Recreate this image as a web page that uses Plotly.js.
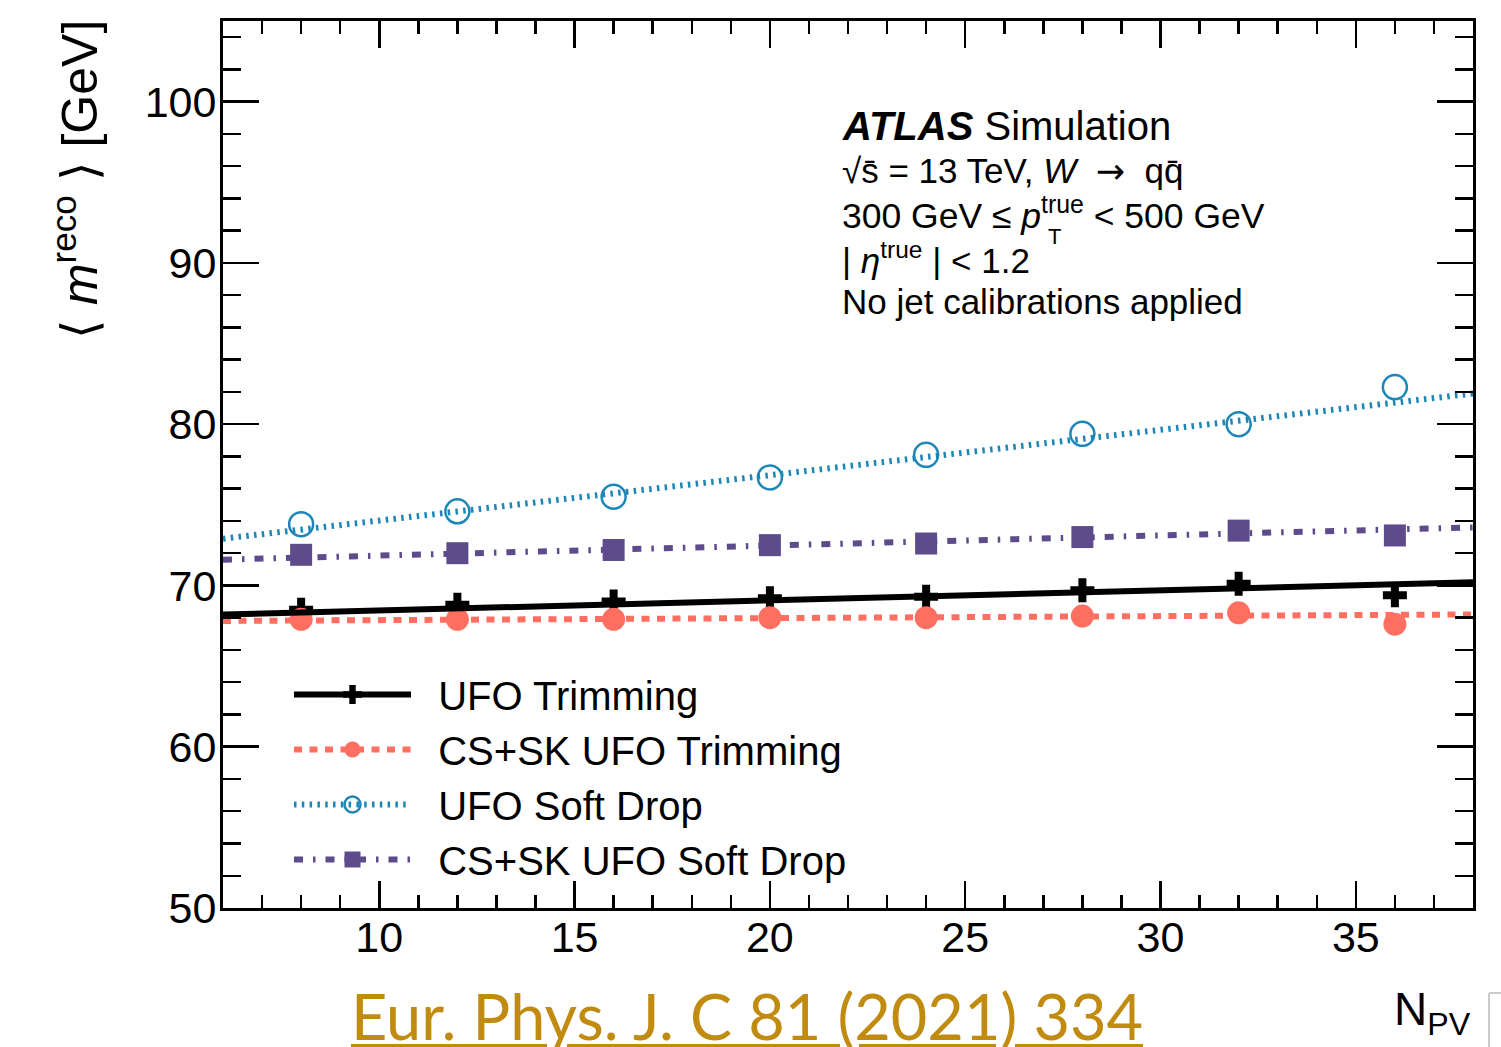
<!DOCTYPE html>
<html>
<head>
<meta charset="utf-8">
<script src="https://cdn.plot.ly/plotly-3.0.1.min.js"></script>
<style>
  html, body { margin: 0; padding: 0; background: #ffffff; }
  #chart { width: 1501px; height: 1047px; }
</style>
</head>
<body>
<div id="chart"></div>
<script>
// Mean reconstructed W-jet mass versus number of primary vertices
const npv = [8, 12, 16, 20, 24, 28, 32, 36];
const ufoTrimming     = [68.5, 68.8, 69.0, 69.2, 69.3, 69.7, 70.1, 69.4];
const csskUfoTrimming = [67.9, 67.9, 67.9, 68.0, 68.0, 68.1, 68.3, 67.6];
const ufoSoftDrop     = [73.8, 74.6, 75.5, 76.7, 78.1, 79.4, 80.0, 82.3];
const csskUfoSoftDrop = [71.9, 72.0, 72.2, 72.5, 72.6, 73.0, 73.4, 73.1];

// Linear fits, given by their values at both ends of the N_PV range
const fitNpv = [6, 38];
const ufoTrimmingFit     = [68.2, 70.2];
const csskUfoTrimmingFit = [67.8, 68.2];
const ufoSoftDropFit     = [72.9, 81.9];
const csskUfoSoftDropFit = [71.6, 73.6];

const seriesNames = ['UFO Trimming', 'CS+SK UFO Trimming', 'UFO Soft Drop', 'CS+SK UFO Soft Drop'];
const xTickVals = [10, 15, 20, 25, 30, 35];
const yTickVals = [50, 60, 70, 80, 90, 100];

const FONT = 'Liberation Sans, Arial, Helvetica, sans-serif';

const styles = [
  { color: '#000000', dash: 'solid',                  lw: 6, symbol: 'cross',       size: 20, mline: 0 },
  { color: '#ff6f61', dash: '8px,7.5px',              lw: 6, symbol: 'circle',      size: 23, mline: 0 },
  { color: '#1c87b7', dash: '2.5px,5.3px',            lw: 6, symbol: 'circle-open', size: 24, mline: 2.5 },
  { color: '#5e4b8c', dash: '9px,10px,2.5px,10px',    lw: 6, symbol: 'square',      size: 22, mline: 0 }
];
const pointSets = [ufoTrimming, csskUfoTrimming, ufoSoftDrop, csskUfoSoftDrop];
const fitSets = [ufoTrimmingFit, csskUfoTrimmingFit, ufoSoftDropFit, csskUfoSoftDropFit];

const traces = [];
// measured points
pointSets.forEach((vals, i) => {
  const s = styles[i];
  traces.push({
    x: npv, y: vals, type: 'scatter', mode: 'markers', showlegend: false,
    name: seriesNames[i], legendgroup: 'g' + i,
    marker: { symbol: s.symbol, size: s.size, color: s.color,
              line: { color: s.color, width: s.mline } }
  });
});
// fitted lines
fitSets.forEach((vals, i) => {
  const s = styles[i];
  traces.push({
    x: fitNpv, y: vals, type: 'scatter', mode: 'lines', showlegend: false,
    name: seriesNames[i], legendgroup: 'g' + i,
    line: { color: s.color, width: s.lw, dash: s.dash }
  });
});
// legend entries (line + marker sample)
seriesNames.forEach((nm, i) => {
  const s = styles[i];
  traces.push({
    x: [null], y: [null], type: 'scatter', mode: 'lines+markers',
    name: '\u00a0\u00a0' + nm, legendgroup: 'g' + i, showlegend: true,
    line: { color: s.color, width: s.lw, dash: s.dash },
    marker: { symbol: s.symbol, size: s.size, color: s.color,
              line: { color: s.color, width: s.mline } }
  });
});

// plot frame in pixels
const L = 223, R = 1473, T = 21, B = 908;
const px = x => (x - L) / (R - L);
const py = y => (B - y) / (B - T);

const textLine = (txt, x, y, size, extra) => Object.assign({
  text: txt, xref: 'paper', yref: 'paper', x: px(x), y: py(y),
  xanchor: 'left', yanchor: 'middle', showarrow: false, align: 'left',
  font: { family: FONT, size: size, color: '#000' }
}, extra || {});

const annotations = [
  textLine('<b><i>ATLAS</i></b> Simulation', 840, 126, 40),
  textLine('\u221As\u0304 = 13 TeV, <i>W</i>\u00a0 <span style="font-family:DejaVu Sans">\u2192</span>\u00a0 qq\u0304', 840, 171, 35),
  textLine('300 GeV \u2264 <i>p</i><sup>true</sup> < 500 GeV', 840, 214, 35.5),
  textLine('T', 1046, 236, 22),
  textLine('| <i>\u03B7</i><sup>true</sup> | < 1.2', 840, 258, 35),
  textLine('No jet calibrations applied', 840, 301, 35),
  // y-axis title
  { text: '\u27E8 <i>m</i><sup>reco</sup> \u27E9 [GeV]', xref: 'paper', yref: 'paper',
    x: px(76), y: py(180), xanchor: 'center', yanchor: 'middle', textangle: -90,
    showarrow: false, font: { family: FONT, size: 50, color: '#000' } },
  // x-axis title
  { text: 'N<sub>PV</sub>', xref: 'paper', yref: 'paper', x: px(1473), y: py(1012),
    xanchor: 'right', yanchor: 'middle', showarrow: false,
    font: { family: FONT, size: 46, color: '#000' } },
  // publication reference
  { text: '<u>Eur. Phys. J. C 81 (2021) 334</u>', xref: 'paper', yref: 'paper',
    x: px(747), y: py(1016), xanchor: 'center', yanchor: 'middle', showarrow: false,
    font: { family: 'Lato, sans-serif', size: 63, color: '#c18b10' } }
];

const axisCommon = {
  showline: true, linecolor: '#000', linewidth: 3, mirror: 'allticks',
  ticks: 'inside', tickcolor: '#000', tickwidth: 2.5,
  showgrid: false, zeroline: false,
  tickfont: { family: FONT, size: 43, color: '#000' }
};

const layout = {
  width: 1501, height: 1047,
  margin: { l: L, r: 1501 - R, t: T, b: 1047 - B, pad: 0 },
  paper_bgcolor: '#ffffff', plot_bgcolor: '#ffffff',
  showlegend: true,
  legend: {
    x: px(289), y: py(662), xanchor: 'left', yanchor: 'top',
    bgcolor: 'rgba(0,0,0,0)', borderwidth: 0, itemwidth: 117,
    font: { family: FONT, size: 40, color: '#000' }, tracegroupgap: 0
  },
  xaxis: Object.assign({}, axisCommon, {
    range: [6, 38], tickvals: xTickVals, ticklen: 27, ticklabelstandoff: -11,
    minor: { dtick: 1, tick0: 0, ticks: 'inside', ticklen: 13, tickwidth: 2.5, tickcolor: '#000', showgrid: false }
  }),
  yaxis: Object.assign({}, axisCommon, {
    range: [50, 105], tickvals: yTickVals, ticklen: 36, ticklabelstandoff: -5,
    minor: { dtick: 2, tick0: 0, ticks: 'inside', ticklen: 18, tickwidth: 2.5, tickcolor: '#000', showgrid: false }
  }),
  annotations: annotations,
  shapes: [
    { type: 'line', xref: 'paper', yref: 'paper', x0: px(1489), x1: px(1489), y0: py(993), y1: py(1047), line: { color: '#c8cccc', width: 2 } },
    { type: 'line', xref: 'paper', yref: 'paper', x0: px(1489), x1: px(1501), y0: py(993), y1: py(993), line: { color: '#c8cccc', width: 2 } }
  ]
};

Plotly.newPlot('chart', traces, layout, { displayModeBar: false, staticPlot: true });
</script>
</body>
</html>
